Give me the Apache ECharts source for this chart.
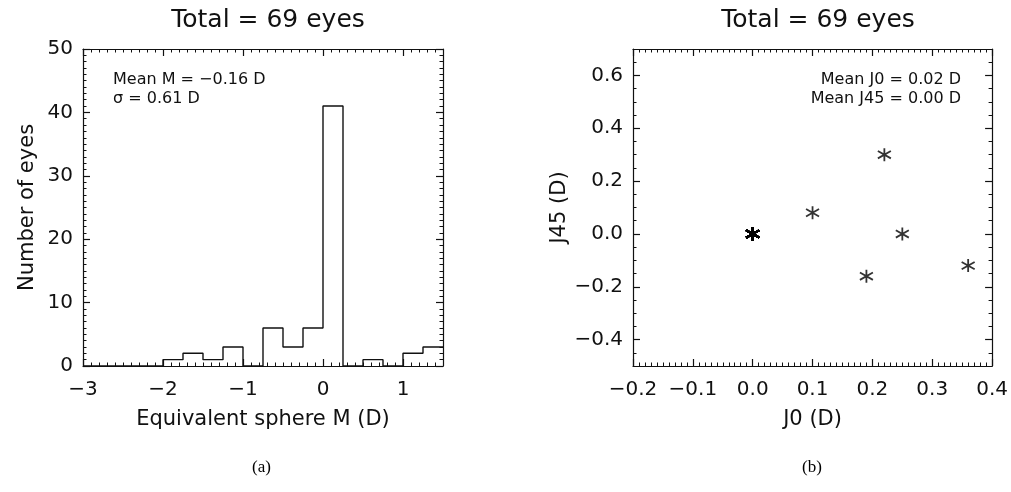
<!DOCTYPE html>
<html>
<head>
<meta charset="utf-8">
<script src="https://cdn.jsdelivr.net/npm/echarts@6/dist/echarts.min.js"></script>
<style>
html,body{margin:0;padding:0;background:#fff;}
#chart{width:1011px;height:492px;}
</style>
</head>
<body>
<div id="chart"></div>
<script>
// ---- Data (panel a: histogram of equivalent sphere M) ----
const binStarts = [-3.0,-2.75,-2.5,-2.25,-2.0,-1.75,-1.5,-1.25,-1.0,-0.75,-0.5,-0.25,0.0,0.25,0.5,0.75,1.0,1.25];
const binWidth = 0.25;
const binCounts = [0,0,0,0,1,2,1,3,0,6,3,6,41,0,1,0,2,3];
const histXTicks = [-3,-2,-1,0,1];
const histYTicks = [0,10,20,30,40,50];

// ---- Data (panel b: J0 vs J45) ----
const j0Values  = [0.00, 0.10, 0.22, 0.19, 0.25, 0.36];
const j45Values = [0.00, 0.08, 0.30, -0.16, 0.00, -0.12];
const eyeCounts = [64, 1, 1, 1, 1, 1];
const scatXTicks = [-0.2,-0.1,0.0,0.1,0.2,0.3,0.4];
const scatYTicks = [-0.4,-0.2,0.0,0.2,0.4,0.6];

const titleText = 'Total = 69 eyes';
const statsA = ['Mean M = \u22120.16 D', '\u03c3 = 0.61 D'];
const statsB = ['Mean J0 = 0.02 D', 'Mean J45 = 0.00 D'];

// ---- build derived series data ----
const histLine = [];
binStarts.forEach((s, i) => {
  histLine.push([s, binCounts[i]]);
  histLine.push([s + binWidth, binCounts[i]]);
});
const scatterPts = [];
j0Values.forEach((x, i) => {
  for (let k = 0; k < eyeCounts[i]; k++) scatterPts.push([x, j45Values[i]]);
});

const FONT = 'DejaVu Sans';
const NFONT = 'DejaVu Sans';
const INK = '#111';
const fmtMinus = (v, dec) => {
  const s = dec == null ? String(v) : Number(v).toFixed(dec);
  return s.replace('-', '\u2212');
};

function majorAxis(type, grid, pos, min, max, interval, ticks, labelDec, name, nameGap, showLabels) {
  return {
    type: 'value', gridIndex: grid, position: pos, min: min, max: max, interval: interval,
    name: showLabels ? name : '', nameLocation: 'middle', nameGap: nameGap,
    nameTextStyle: {fontFamily: NFONT, fontSize: 21, color: INK},
    axisLine: {show: true, onZero: false, lineStyle: {color: INK, width: 1.2}},
    axisTick: {show: true, inside: true, length: 7, customValues: ticks, lineStyle: {color: INK, width: 1.2}},
    axisLabel: {show: showLabels, customValues: ticks, fontFamily: FONT, fontSize: 20, color: INK,
      margin: type === 'x' ? 14 : 10,
      formatter: v => fmtMinus(v, labelDec)},
    splitLine: {show: false}
  };
}
function minorAxis(grid, pos, min, max, interval) {
  return {
    type: 'value', gridIndex: grid, position: pos, min: min, max: max, interval: interval,
    axisLine: {show: false, onZero: false},
    axisTick: {show: true, inside: true, length: 3.5, lineStyle: {color: INK, width: 1}},
    axisLabel: {show: false},
    splitLine: {show: false}
  };
}

const chart = echarts.init(document.getElementById('chart'), null, {renderer: 'canvas'});

const statFont = '16px "DejaVu Sans"';
const option = {
  backgroundColor: '#fff',
  animation: false,
  title: [
    {text: titleText, left: 263, top: 3, textAlign: 'center',
     textStyle: {fontFamily: NFONT, fontSize: 25, fontWeight: 'normal', color: INK}},
    {text: titleText, left: 813, top: 3, textAlign: 'center',
     textStyle: {fontFamily: NFONT, fontSize: 25, fontWeight: 'normal', color: INK}}
  ],
  grid: [
    {left: 83, top: 49, width: 360, height: 317, containLabel: false},
    {left: 633, top: 49, width: 360, height: 317, containLabel: false}
  ],
  xAxis: [
    majorAxis('x', 0, 'bottom', -3, 1.5, 0.5, histXTicks, null, 'Equivalent sphere M (D)', 43, true),
    majorAxis('x', 0, 'top', -3, 1.5, 0.5, histXTicks, null, '', 0, false),
    minorAxis(0, 'bottom', -3, 1.5, 0.1),
    minorAxis(0, 'top', -3, 1.5, 0.1),
    majorAxis('x', 1, 'bottom', -0.2, 0.4, 0.1, scatXTicks, 1, 'J0 (D)', 43, true),
    majorAxis('x', 1, 'top', -0.2, 0.4, 0.1, scatXTicks, 1, '', 0, false),
    minorAxis(1, 'bottom', -0.2, 0.4, 0.01),
    minorAxis(1, 'top', -0.2, 0.4, 0.01)
  ],
  yAxis: [
    majorAxis('y', 0, 'left', 0, 50, 10, histYTicks, null, 'Number of eyes', 45, true),
    majorAxis('y', 0, 'right', 0, 50, 10, histYTicks, null, '', 0, false),
    minorAxis(0, 'left', 0, 50, 1),
    minorAxis(0, 'right', 0, 50, 1),
    majorAxis('y', 1, 'left', -0.5, 0.7, 0.1, scatYTicks, 1, 'J45 (D)', 45, true),
    majorAxis('y', 1, 'right', -0.5, 0.7, 0.1, scatYTicks, 1, '', 0, false),
    minorAxis(1, 'left', -0.5, 0.7, 0.05),
    minorAxis(1, 'right', -0.5, 0.7, 0.05)
  ],
  series: [
    {type: 'line', xAxisIndex: 0, yAxisIndex: 0, data: histLine, symbol: 'none',
     lineStyle: {color: INK, width: 1.4}, clip: true},
    {type: 'scatter', xAxisIndex: 4, yAxisIndex: 4, data: scatterPts,
     symbol: 'path://M0,-10L0,10M-8.2,-5.7L8.2,5.7M-8.2,5.7L8.2,-5.7',
     symbolSize: 13,
     itemStyle: {color: 'none', borderColor: '#000', borderWidth: 1.8}}
  ],
  graphic: [
    {type: 'text', left: 113, top: 72, style: {text: statsA[0], font: statFont, fill: INK}},
    {type: 'text', left: 113, top: 91, style: {text: statsA[1], font: statFont, fill: INK}},
    {type: 'text', right: 50, top: 72, style: {text: statsB[0], font: statFont, fill: INK, textAlign: 'right'}},
    {type: 'text', right: 50, top: 91, style: {text: statsB[1], font: statFont, fill: INK, textAlign: 'right'}},
    {type: 'text', left: 252, top: 459, style: {text: '(a)', font: '17px "Liberation Serif"', fill: '#000'}},
    {type: 'text', left: 802, top: 459, style: {text: '(b)', font: '17px "Liberation Serif"', fill: '#000'}}
  ]
};
chart.setOption(option);
</script>
</body>
</html>
